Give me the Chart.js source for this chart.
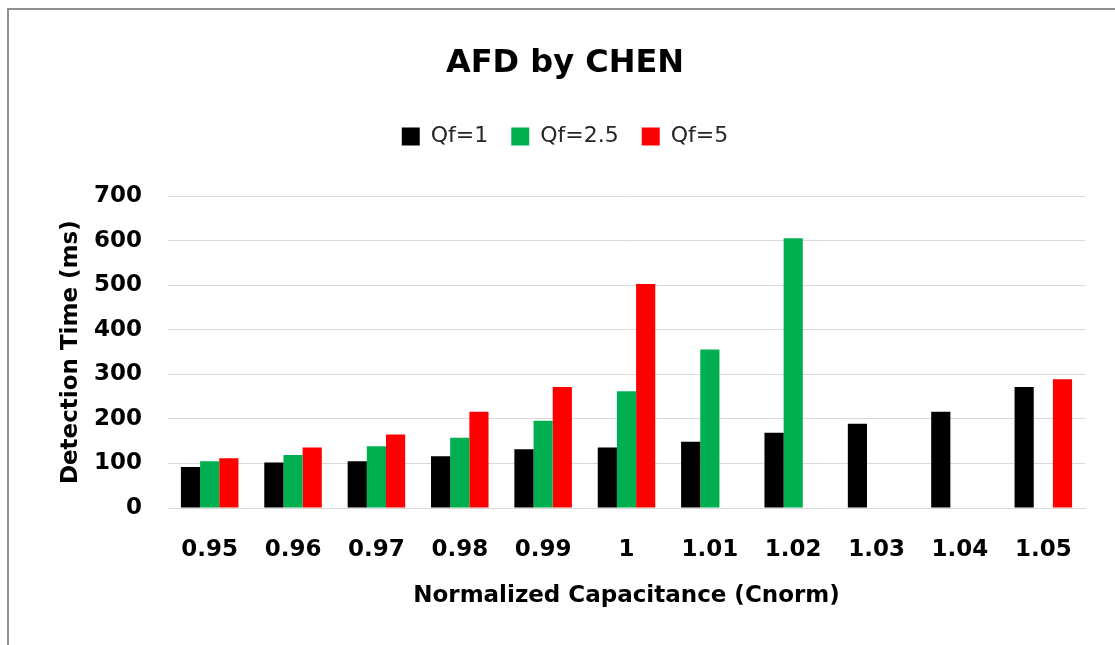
<!DOCTYPE html>
<html>
<head>
<meta charset="utf-8">
<script src="https://cdn.jsdelivr.net/npm/chart.js@4.4.1/dist/chart.umd.min.js"></script>
<style>
  html, body { margin: 0; padding: 0; background: #ffffff; }
  #wrap { position: absolute; left: 0; top: 0; width: 1115px; height: 645px; }
</style>
</head>
<body>
<div id="wrap"><canvas id="chart" width="1115" height="645"></canvas></div>
<script>
// Normalized capacitance values on the x axis
const categories = ['0.95', '0.96', '0.97', '0.98', '0.99', '1', '1.01', '1.02', '1.03', '1.04', '1.05'];

// Detection time (ms) per quality factor; null where no detection was recorded
const qf1  = [92, 102, 105, 116, 132, 136, 149, 169, 189, 216, 272];
const qf25 = [105, 119, 139, 158, 196, 262, 356, 606, null, null, null];
const qf5  = [112, 136, 165, 216, 272, 503, null, null, null, null, 289];

const seriesNames = ['Qf=1', 'Qf=2.5', 'Qf=5'];
const yTicks = [0, 100, 200, 300, 400, 500, 600, 700];

const FONT = '"DejaVu Sans", Verdana, sans-serif';

// Thin gray frame around the chart area
const framePlugin = {
  id: 'frame',
  afterDraw(chart) {
    const ctx = chart.ctx;
    ctx.save();
    ctx.fillStyle = '#8f8f8f';
    ctx.fillRect(7, 8, 2, chart.height - 8);
    ctx.fillRect(7, 8, chart.width - 7, 2);
    ctx.restore();
  }
};

// Extra breathing room between the legend row and the plot
const legendGapPlugin = {
  id: 'legendGap',
  beforeLayout(chart, args, opts) {
    const lg = chart.legend;
    if (lg && !lg._gapPatched) {
      const fit = lg.fit;
      lg.fit = function () {
        fit.call(this);
        this.height += opts.extra || 0;
      };
      lg._gapPatched = true;
    }
  }
};

new Chart(document.getElementById('chart'), {
  type: 'bar',
  data: {
    labels: categories,
    datasets: [
      { label: seriesNames[0], data: qf1,  backgroundColor: '#000000' },
      { label: seriesNames[1], data: qf25, backgroundColor: '#00B050' },
      { label: seriesNames[2], data: qf5,  backgroundColor: '#FF0000' }
    ]
  },
  options: {
    responsive: false,
    animation: false,
    devicePixelRatio: 1,
    layout: { padding: { left: 45, right: 30, top: 0, bottom: 0 } },
    datasets: {
      bar: { categoryPercentage: 0.69, barPercentage: 1.0 }
    },
    plugins: {
      title: {
        display: true,
        text: 'AFD by CHEN',
        color: '#000000',
        font: { family: FONT, size: 32, weight: 'bold' },
        padding: { top: 44, bottom: 20 }
      },
      legend: {
        display: true,
        position: 'top',
        labels: {
          boxWidth: 18,
          boxHeight: 18,
          padding: 23,
          color: '#262626',
          font: { family: FONT, size: 22 }
        }
      },
      legendGap: { extra: 39 },
      tooltip: { enabled: false }
    },
    scales: {
      x: {
        grid: { display: false, drawTicks: false },
        border: { display: true, color: '#D9D9D9' },
        ticks: {
          color: '#000000',
          padding: 28,
          font: { family: FONT, size: 23, weight: 'bold' }
        },
        title: {
          display: true,
          text: 'Normalized Capacitance (Cnorm)',
          color: '#000000',
          font: { family: FONT, size: 23, weight: 'bold' },
          padding: { top: 0, bottom: 35 }
        },
        afterFit(scale) { scale.height = 137; }
      },
      y: {
        min: 0,
        max: 700,
        afterBuildTicks(scale) { scale.ticks = yTicks.map(v => ({ value: v })); },
        grid: { color: '#D9D9D9', lineWidth: 1, drawTicks: false },
        border: { display: false },
        ticks: {
          color: '#000000',
          padding: 26,
          font: { family: FONT, size: 23, weight: 'bold' }
        },
        title: {
          display: true,
          text: 'Detection Time (ms)',
          color: '#000000',
          font: { family: FONT, size: 23, weight: 'bold' },
          padding: { top: 12, bottom: 0 }
        },
        afterFit(scale) { scale.width = 123; }
      }
    }
  },
  plugins: [framePlugin, legendGapPlugin]
});
</script>
</body>
</html>
